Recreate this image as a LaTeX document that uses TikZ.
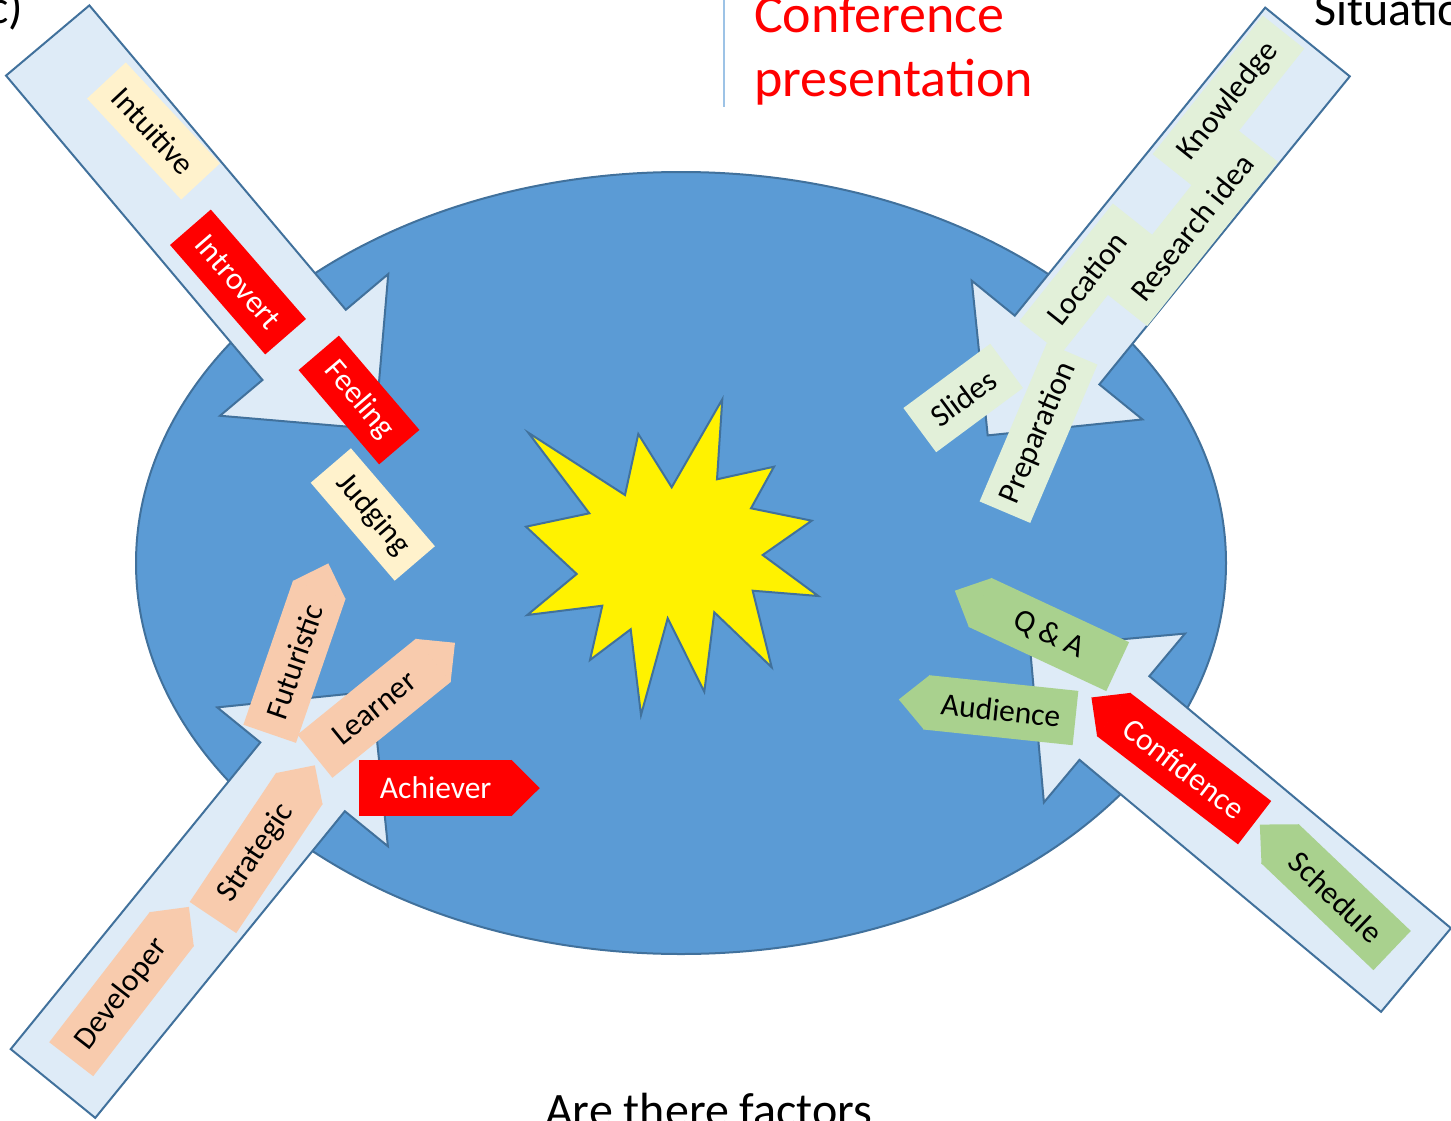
\documentclass[tikz,border=0pt]{standalone}
\usepackage{fontspec}
\setmainfont{Carlito}
\usetikzlibrary{calc}

\definecolor{discfill}{HTML}{5B9BD5}
\definecolor{edgeblue}{HTML}{41719C}
\definecolor{shaftfill}{HTML}{DEEBF7}
\definecolor{cream}{HTML}{FFF2CC}
\definecolor{peach}{HTML}{F8CBAD}
\definecolor{mint}{HTML}{E2F0D9}
\definecolor{leaf}{HTML}{A9D18E}
\definecolor{rulecol}{HTML}{9DC3E6}

\tikzset{
  disc/.style={fill=discfill, draw=edgeblue, line width=2pt},
  burst/.style={fill=yellow, draw=edgeblue, line width=2pt, line join=miter},
  shaft/.style={fill=shaftfill, draw=edgeblue, line width=2pt, line join=miter},
  tag/.style={inner sep=0pt, font=\fontsize{31.5}{38}\selectfont, text=black},
  redtag/.style={tag, fill=red, text=white},
  bigtext/.style={inner sep=0pt, anchor=base west, font=\fontsize{48}{58}\selectfont},
  titletext/.style={inner sep=0pt, anchor=base west, text=red, font=\fontsize{54}{64}\selectfont},
}

% Block arrow: tip #1, middle of the back edge #2
\newcommand\blockarrow[2]{%
  \coordinate (hm) at ($(#1)!110pt!(#2)$);
  \draw[shaft] ($(#2)!54.5pt!90:(#1)$) -- ($(hm)!54.5pt!90:(#1)$)
    -- ($(hm)!110pt!90:(#1)$) -- (#1) -- ($(hm)!110pt!-90:(#1)$)
    -- ($(hm)!54.5pt!-90:(#1)$) -- ($(#2)!54.5pt!-90:(#1)$) -- cycle;}

% Point added to one end of a tag: node #1, pointed side #2, other side #3, colour #4
\newcommand\tagpoint[4]{%
  \fill[#4] ($(#1.north #2)!0.8pt!(#1.north #3)$)
    -- ($(#1.#2)!-27.5pt!(#1.center)$)
    -- ($(#1.south #2)!0.8pt!(#1.south #3)$) -- cycle;}

\begin{document}
\begin{tikzpicture}[x=1pt, y=-1pt]
\useasboundingbox (0,0) rectangle (1451,1121);
\clip (0,0) rectangle (1451,1121);

% central disc
\draw[disc] (681,563) ellipse [x radius=545pt, y radius=391pt];

% explosion in the middle
\draw[burst] (528.3,432.7) -- (625,495) -- (638.3,434) -- (671.7,487.3)
  -- (722.3,399.3) -- (717,479.3) -- (774,466.7) -- (751,508.3)
  -- (811.7,520.7) -- (762.7,555) -- (818.3,596) -- (752.7,590.7)
  -- (771.7,667.3) -- (714.3,612.3) -- (704.3,691.7) -- (667.7,618.3)
  -- (641,715) -- (630.7,629.3) -- (590,660) -- (602.3,605.7)
  -- (527.3,615) -- (576.7,574) -- (526,526.7) -- (589.3,513.3) -- cycle;

% four block arrows pointing inwards
\coordinate (tlTip) at (375,429);    \coordinate (tlBack) at (47.7,40.5);
\coordinate (trTip) at (987.7,435.4); \coordinate (trBack) at (1307.5,42);
\coordinate (blTip) at (372,691.5);  \coordinate (blBack) at (53,1083.5);
\coordinate (brTip) at (1030,647.5); \coordinate (brBack) at (1416,970);
\blockarrow{tlTip}{tlBack}
\blockarrow{trTip}{trBack}
\blockarrow{blTip}{blBack}
\blockarrow{brTip}{brBack}

% upper left: personality traits
\node[tag, fill=cream, rotate=-47, minimum width=138pt, minimum height=53pt] (intuitive) at (153.5,131) {Intuitive};
\node[redtag, rotate=-49, minimum width=145pt, minimum height=54pt] (introvert) at (238,282) {Introvert};
\node[redtag, rotate=-49.5, minimum width=124pt, minimum height=53pt] (feeling) at (359,400) {Feeling};
\node[tag, fill=cream, rotate=-49.4, minimum width=129pt, minimum height=53pt] (judging) at (372.8,514.5) {Judging};

% upper right: situation
\node[tag, fill=mint, rotate=51.5, minimum width=177pt, minimum height=53pt] (knowledge) at (1228.4,101.4) {Knowledge};
\node[tag, fill=mint, rotate=51.5, minimum width=210pt, minimum height=53pt] (research) at (1191.8,227.4) {Research idea};
\node[tag, fill=mint, rotate=51.5, minimum width=150pt, minimum height=53pt] (location) at (1086.9,278.7) {Location};
\node[tag, fill=mint, rotate=67, minimum width=172pt, minimum height=55pt] (preparation) at (1038.5,433) {Preparation};
\node[tag, fill=mint, rotate=36.5, minimum width=108pt, minimum height=55pt] (slides) at (963.2,398) {Slides};

% lower left: strengths
\node[tag, fill=peach, rotate=52.3, minimum width=164.8pt, minimum height=55.6pt] (developer) at (121.6,994) {Developer};
\tagpoint{developer}{east}{west}{peach}
\node[tag, fill=peach, rotate=56.2, minimum width=155.5pt, minimum height=56pt] (strategic) at (256.2,852.9) {Strategic};
\tagpoint{strategic}{east}{west}{peach}
\node[tag, fill=peach, rotate=71, minimum width=152.5pt, minimum height=55.6pt] (futuristic) at (294.5,661.7) {Futuristic};
\tagpoint{futuristic}{east}{west}{peach}
\node[tag, fill=peach, rotate=39, minimum width=152.5pt, minimum height=55.5pt] (learner) at (374.2,708.2) {Learner};
\tagpoint{learner}{east}{west}{peach}
\node[redtag, minimum width=152.7pt, minimum height=56pt] (achiever) at (435.7,788) {Achiever};
\tagpoint{achiever}{east}{west}{red}

% lower right: presentation
\node[tag, fill=leaf, rotate=-25, minimum width=152pt, minimum height=54pt] (qa) at (1048.8,634.5) {Q \& A};
\tagpoint{qa}{west}{east}{leaf}
\node[tag, fill=leaf, rotate=-6, minimum width=150pt, minimum height=54.6pt] (audience) at (1000.9,710.2) {Audience};
\tagpoint{audience}{west}{east}{leaf}
\node[redtag, rotate=-37.5, minimum width=178pt, minimum height=54.6pt] (confidence) at (1184,768.5) {Confidence};
\tagpoint{confidence}{west}{east}{red}
\node[tag, fill=leaf, rotate=-43.6, minimum width=155pt, minimum height=54.2pt] (schedule) at (1336,897.1) {Schedule};
\tagpoint{schedule}{west}{east}{leaf}

% headings around the figure
\coordinate (ruletop) at (723.7,0);
\coordinate (rulebot) at (723.7,106.7);
\draw[rulecol, line width=2pt] (ruletop) -- (rulebot);
\node[titletext] (conference) at (754,33) {Conference};
\node[titletext] (presentation) at (754,96.7) {presentation};
\node[bigtext] (situation) at (1314,25.5) {Situation};
\node[bigtext] (panel) at (-11.6,24) {c)};
\node[bigtext] (question) at (545,1126) {Are there factors};
\end{tikzpicture}
\end{document}
